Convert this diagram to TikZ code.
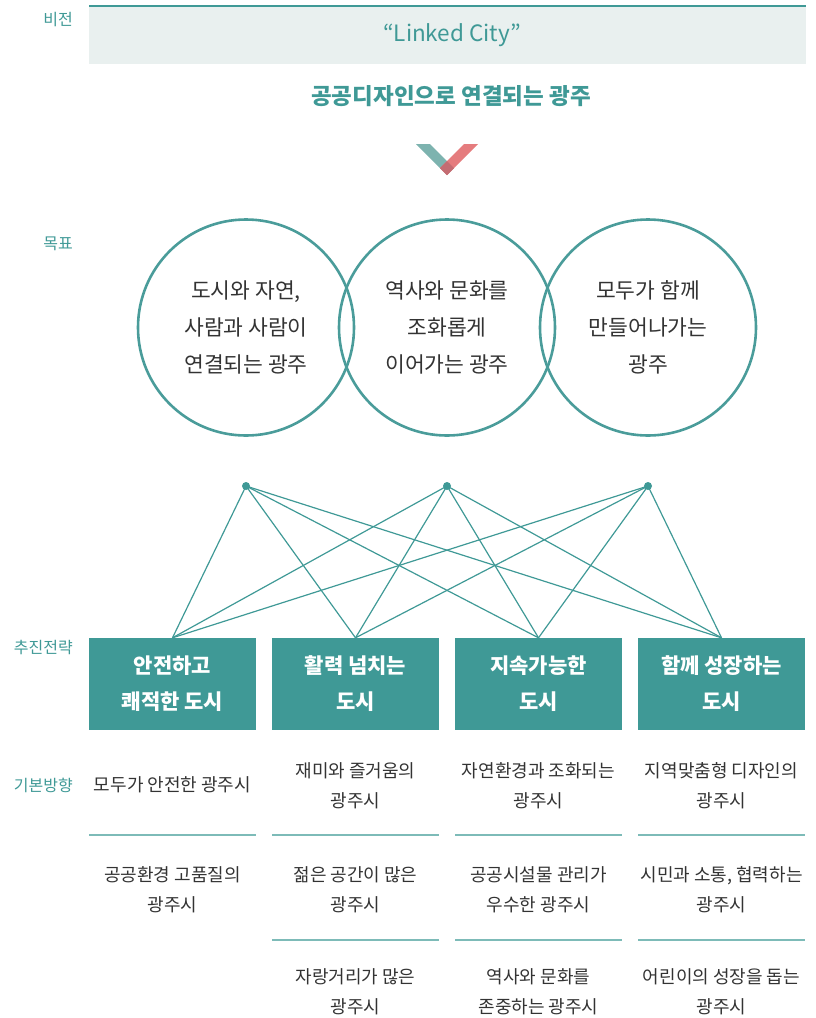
\documentclass[tikz,border=0pt]{standalone}
\usepackage{fontspec}
\setmainfont{Noto Sans CJK KR}
\definecolor{teal1}{HTML}{3F9996}
\definecolor{tealline}{HTML}{4A9C9A}
\definecolor{teallight}{HTML}{7DBBB8}
\definecolor{band}{HTML}{E9F0EF}
\definecolor{txt}{HTML}{333333}
\definecolor{chevT}{HTML}{7DB3AF}
\definecolor{chevR}{HTML}{E57C7E}
\definecolor{chevO}{HTML}{C46C72}
\tikzset{
  sidelabel/.style={anchor=east, text=teal1, font=\fontsize{16}{18}\selectfont, inner sep=0pt},
  goal/.style={circle, draw=tealline, line width=2.6pt, minimum size=216pt, align=center, text=txt, font=\fontsize{21.5}{37}\selectfont},
  strat/.style={rectangle, fill=teal1, minimum width=167pt, minimum height=92pt, align=center, text=white, font=\bfseries\fontsize{21}{36}\selectfont, inner sep=0pt},
  dir/.style={align=center, text=txt, font=\fontsize{18}{30}\selectfont, inner sep=0pt},
  hub/.style={circle, fill=teal1, minimum size=8pt, inner sep=0pt},
  link/.style={draw=teal1, line width=1.2pt},
  divider/.style={draw=teallight, line width=2pt}
}
\begin{document}
\begin{tikzpicture}[x=1pt,y=-1pt]
\useasboundingbox (0,0) rectangle (815,1018);
% vision band
\fill[band] (89,6) rectangle (806,64);
\draw[teal1, line width=2.4pt] (89,6) -- (806,6);
\node[sidelabel] (lv) at (73,20) {비전};
\node[text=teal1, font=\fontsize{22.5}{24}\selectfont] (vision) at (452,35) {“Linked City”};
\node[text=teal1, font=\bfseries\fontsize{22.5}{24}\selectfont] (vsub) at (451,96) {공공디자인으로 연결되는 광주};
% chevron
\fill[chevT] (416,144) -- (430,144) -- (454,168) -- (447,175) -- cycle;
\fill[chevR] (478,144) -- (464,144) -- (440,168) -- (447,175) -- cycle;
\fill[chevO] (440,168) -- (447,161) -- (454,168) -- (447,175) -- cycle;
% goals
\node[sidelabel] (lg) at (73,244) {목표};
\node[goal] (g1) at (246,327.5) {도시와 자연,\\사람과 사람이\\연결되는 광주};
\node[goal] (g2) at (447,327.5) {역사와 문화를\\조화롭게\\이어가는 광주};
\node[goal] (g3) at (648,327.5) {모두가 함께\\만들어나가는\\광주};
% hubs
\node[hub] (h1) at (246,486) {};
\node[hub] (h2) at (447,486) {};
\node[hub] (h3) at (648,486) {};
% strategies
\node[sidelabel] (ls) at (73,648) {추진전략};
\node[strat] (s1) at (172.5,684) {안전하고\\쾌적한 도시};
\node[strat] (s2) at (355.5,684) {활력 넘치는\\도시};
\node[strat] (s3) at (538.5,684) {지속가능한\\도시};
\node[strat] (s4) at (721.5,684) {함께 성장하는\\도시};
\foreach \h in {h1,h2,h3}{
  \foreach \s in {s1,s2,s3,s4}{
    \draw[link] (\h.center) -- (\s.north);
  }
}
% directions
\node[sidelabel] (ld) at (73,785) {기본방향};
\node[dir] (d11) at (172.5,785) {모두가 안전한 광주시};
\node[dir] (d12) at (172.5,890) {공공환경 고품질의\\광주시};
\node[dir] (d21) at (355.5,786) {재미와 즐거움의\\광주시};
\node[dir] (d22) at (355.5,890) {젊은 공간이 많은\\광주시};
\node[dir] (d23) at (355.5,992) {자랑거리가 많은\\광주시};
\node[dir] (d31) at (538.5,786) {자연환경과 조화되는\\광주시};
\node[dir] (d32) at (538.5,890) {공공시설물 관리가\\우수한 광주시};
\node[dir] (d33) at (538.5,992) {역사와 문화를\\존중하는 광주시};
\node[dir] (d41) at (721.5,786) {지역맞춤형 디자인의\\광주시};
\node[dir] (d42) at (721.5,890) {시민과 소통, 협력하는\\광주시};
\node[dir] (d43) at (721.5,992) {어린이의 성장을 돕는\\광주시};
% dividers
\draw[divider] (89,835) -- (256,835);
\foreach \x in {272,455,638}{
  \draw[divider] (\x,835) -- (\x+167,835);
  \draw[divider] (\x,940) -- (\x+167,940);
}
\end{tikzpicture}
\end{document}
